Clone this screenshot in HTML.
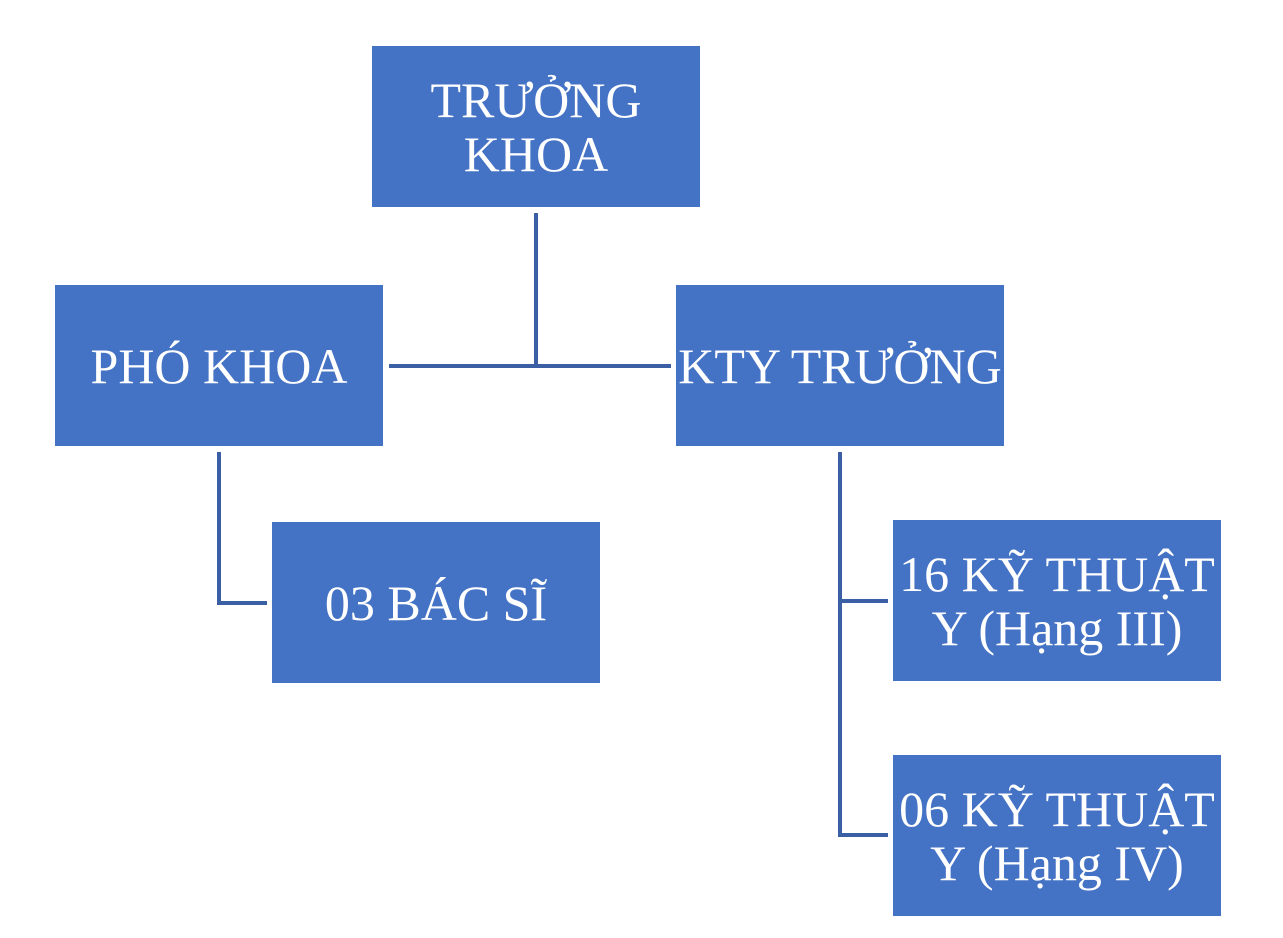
<!DOCTYPE html>
<html><head><meta charset="utf-8"><style>
body{margin:0;width:1283px;height:938px;background:#fff;position:relative;overflow:hidden}
.b{position:absolute;background:#4472c4;color:#fff;font-family:"Liberation Serif",serif;font-size:50px;line-height:54px;display:flex;align-items:center;justify-content:center;text-align:center;width:328px;height:161px;white-space:nowrap}
.l{position:absolute;background:#3a5fa5}
</style></head><body>
<div class="l" style="left:534px;top:213px;width:4px;height:155px"></div>
<div class="l" style="left:389px;top:364px;width:282px;height:4px"></div>
<div class="l" style="left:217px;top:452px;width:4px;height:153px"></div>
<div class="l" style="left:217px;top:601px;width:50px;height:4px"></div>
<div class="l" style="left:838px;top:452px;width:4px;height:385px"></div>
<div class="l" style="left:838px;top:599px;width:50px;height:4px"></div>
<div class="l" style="left:838px;top:833px;width:50px;height:4px"></div>
<div class="b" style="left:372px;top:46px">TRƯỞNG<br>KHOA</div>
<div class="b" style="left:55px;top:285px">PHÓ KHOA</div>
<div class="b" style="left:676px;top:285px">KTY TRƯỞNG</div>
<div class="b" style="left:272px;top:522px">03 BÁC SĨ</div>
<div class="b" style="left:893px;top:520px">16 KỸ THUẬT<br>Y (Hạng III)</div>
<div class="b" style="left:893px;top:755px">06 KỸ THUẬT<br>Y (Hạng IV)</div>
</body></html>
